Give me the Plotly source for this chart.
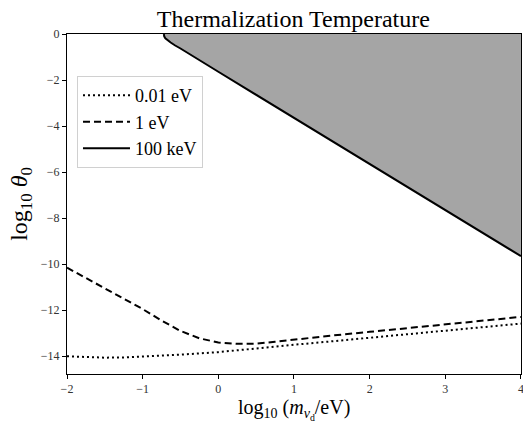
import plotly.graph_objects as go

# log10(m / eV) grid and log10(theta_0) curves for three thermalization temperatures
x_001ev = [-2.0, -1.75, -1.5, -1.25, -1.0, -0.5, 0.0, 0.5, 1.0, 1.5, 2.0, 2.5, 3.0, 3.5, 4.0]
y_001ev = [-14.0, -14.04, -14.06, -14.05, -14.02, -13.93, -13.82, -13.65, -13.5, -13.35, -13.2, -13.05, -12.9, -12.74, -12.58]

x_1ev = [-2.0, -1.5, -1.0, -0.75, -0.5, -0.25, 0.0, 0.25, 0.5, 0.75, 1.0, 1.5, 2.0, 2.5, 3.0, 3.5, 4.0]
y_1ev = [-10.15, -11.05, -11.95, -12.45, -12.9, -13.22, -13.4, -13.46, -13.45, -13.37, -13.27, -13.1, -12.94, -12.78, -12.62, -12.45, -12.29]

x_100kev = [-0.72, -0.715, -0.7, -0.67, -0.63, -0.57, -0.5, 0.0, 1.0, 2.0, 3.0, 4.0]
y_100kev = [0.0, -0.1, -0.19, -0.28, -0.37, -0.5, -0.63, -1.64, -3.64, -5.64, -7.65, -9.65]

labels = ["0.01 eV", "1 eV", "100 keV"]
x_ticks = [-2, -1, 0, 1, 2, 3, 4]
y_ticks = [0, -2, -4, -6, -8, -10, -12, -14]

FONT = "Liberation Serif"


def fmt(v):
    return str(v).replace("-", "\u2212")


fig = go.Figure()

# excluded region above the 100 keV curve
fig.add_trace(go.Scatter(
    x=x_100kev + [x_ticks[-1], x_100kev[0]],
    y=y_100kev + [y_ticks[0], y_100kev[0]],
    mode="lines", fill="toself", fillcolor="#a5a5a5",
    line=dict(width=0), hoverinfo="skip", showlegend=False,
))

fig.add_trace(go.Scatter(x=x_001ev, y=y_001ev, mode="lines", name=labels[0],
                         line=dict(color="black", width=2, dash="2px,3px")))
fig.add_trace(go.Scatter(x=x_1ev, y=y_1ev, mode="lines", name=labels[1],
                         line=dict(color="black", width=2, dash="7px,4px")))
fig.add_trace(go.Scatter(x=x_100kev, y=y_100kev, mode="lines", name=labels[2],
                         line=dict(color="black", width=2)))

axis_common = dict(
    showgrid=False, zeroline=False, showline=True, linecolor="black", linewidth=1,
    mirror=True, ticks="outside", ticklen=4, tickcolor="black", tickwidth=1,
    tickfont=dict(family=FONT, size=12, color="#333"),
    ticklabeloverflow="allow", automargin=False,
)

fig.update_xaxes(
    range=[-2, 4.0005], tickvals=x_ticks, ticktext=[fmt(v) for v in x_ticks],
    **axis_common,
)
fig.update_yaxes(
    range=[-14.77, 0], tickvals=y_ticks, ticktext=[fmt(v) for v in y_ticks],
    title=dict(text="log<sub>10</sub> <i>θ</i><sub>0</sub>",
               font=dict(family=FONT, size=24, color="black"), standoff=6),
    **axis_common,
)

# x-axis label placed below the tick labels
fig.add_annotation(
    text="log<sub>10</sub> (<i>m</i><sub><i>ν</i><sub>d</sub></sub>/eV)",
    xref="paper", yref="paper", x=0.5, y=-0.104, xanchor="center", yanchor="middle",
    showarrow=False, font=dict(family=FONT, size=20, color="black"),
)

fig.update_layout(
    width=523, height=424,
    margin=dict(l=67, r=2, t=34, b=50),
    paper_bgcolor="white", plot_bgcolor="white",
    title=dict(text="Thermalization Temperature", x=0.561, xanchor="center",
               y=0.955, yanchor="middle",
               font=dict(family=FONT, size=24, color="black")),
    legend=dict(x=0.022, y=0.876, xanchor="left", yanchor="top",
                bgcolor="rgba(255,255,255,0.8)", bordercolor="#d0d0d0", borderwidth=1,
                font=dict(family=FONT, size=18, color="black"),
                itemwidth=47),
    showlegend=True,
)

fig.write_html("out.html")
